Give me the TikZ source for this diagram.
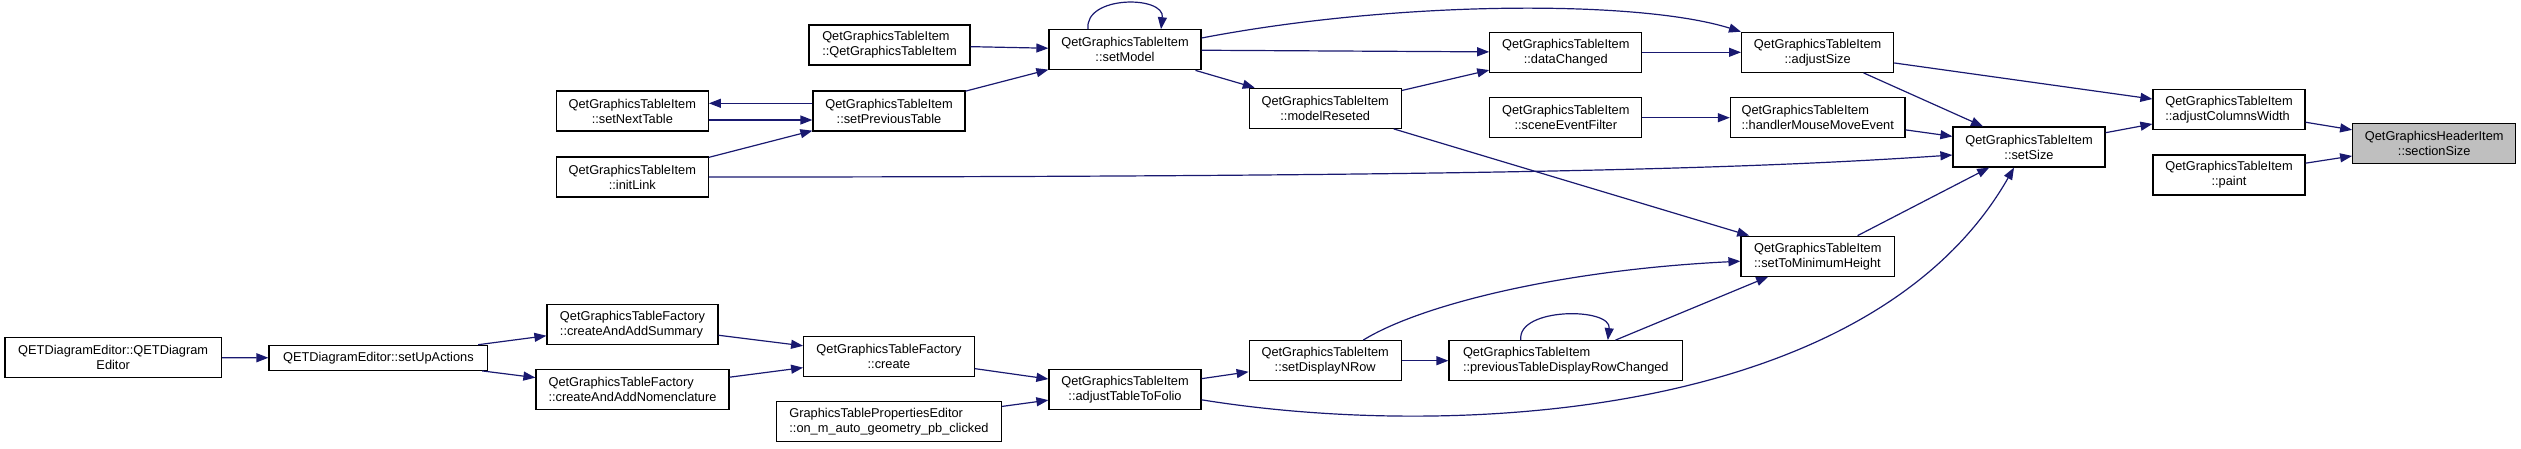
\documentclass[tikz,border=0pt]{standalone}
\usepackage{fontspec}
\setmainfont{Liberation Sans}
\usetikzlibrary{arrows.meta}
\definecolor{edgeBlue}{HTML}{191970}
\definecolor{headerGray}{HTML}{BFBFBF}

\begin{document}
\begin{tikzpicture}[x=1pt, y=-1pt, >={Triangle[length=12pt,width=9pt]}]

    \tikzset{fn/.style={draw, line width=1.2pt, fill=white, inner sep=0pt,
        minimum width=152pt, minimum height=40pt, align=center,
        font=\fontsize{12.8}{15}\selectfont},
      fnl/.style={fn, align=left},
      call/.style={->, draw=edgeBlue, line width=1.2pt}}

    \useasboundingbox (0,0) rectangle (2521,448);

    % callers, left to right
    \node[fn, minimum width=216.6pt] (qetde) at (113.2,357.7) {QETDiagramEditor::QETDiagram\\Editor};
    \node[fn, minimum width=218.8pt, minimum height=25pt] (setup) at (378.4,357.8) {QETDiagramEditor::setUpActions};
    \node[fnl, minimum width=171pt] (summary) at (632.5,324.5) {QetGraphicsTableFactory\\::createAndAddSummary};
    \node[fnl, minimum width=193pt] (nomencl) at (632.5,389.8) {QetGraphicsTableFactory\\::createAndAddNomenclature};
    \node[fn] (nexttable) at (632.3,111) {QetGraphicsTableItem\\::setNextTable};
    \node[fn] (initlink) at (632.3,177) {QetGraphicsTableItem\\::initLink};
    \node[fnl, minimum width=161pt] (ctor) at (889.5,45) {QetGraphicsTableItem\\::QetGraphicsTableItem};
    \node[fn] (prevtable) at (889,111) {QetGraphicsTableItem\\::setPreviousTable};
    \node[fn, minimum width=170.6pt] (create) at (889,356.5) {QetGraphicsTableFactory\\::create};
    \node[fnl, minimum width=224.5pt] (propeditor) at (889,421.7) {GraphicsTablePropertiesEditor\\::on\_m\_auto\_geometry\_pb\_clicked};
    \node[fn] (setmodel) at (1125,49.8) {QetGraphicsTableItem\\::setModel};
    \node[fn] (tofolio) at (1125,389.8) {QetGraphicsTableItem\\::adjustTableToFolio};
    \node[fn] (modelreset) at (1325.2,108.3) {QetGraphicsTableItem\\::modelReseted};
    \node[fn] (displaynrow) at (1325.2,360.7) {QetGraphicsTableItem\\::setDisplayNRow};
    \node[fn] (datachanged) at (1565.8,52.3) {QetGraphicsTableItem\\::dataChanged};
    \node[fn] (eventfilter) at (1565.8,117.7) {QetGraphicsTableItem\\::sceneEventFilter};
    \node[fnl, minimum width=233.6pt] (rowchanged) at (1565.8,360.7) {QetGraphicsTableItem\\::previousTableDisplayRowChanged};
    \node[fn] (adjustsize) at (1817.6,52.3) {QetGraphicsTableItem\\::adjustSize};
    \node[fnl, minimum width=174.6pt] (mousemove) at (1817.7,117.7) {QetGraphicsTableItem\\::handlerMouseMoveEvent};
    \node[fnl, minimum width=153.6pt] (minheight) at (1817.8,256.2) {QetGraphicsTableItem\\::setToMinimumHeight};
    \node[fn] (setsize) at (2029,147) {QetGraphicsTableItem\\::setSize};
    \node[fnl] (colwidth) at (2229,109.7) {QetGraphicsTableItem\\::adjustColumnsWidth};
    \node[fn] (paint) at (2229,175) {QetGraphicsTableItem\\::paint};
    \node[fn, fill=headerGray, minimum width=163pt] (sectionsize) at (2434.2,143.3) {QetGraphicsHeaderItem\\::sectionSize};

    % straight calls
    \draw[call] (qetde) -- (setup);
    \draw[call] (setup) -- (summary);
    \draw[call] (setup) -- (nomencl);
    \draw[call] (summary) -- (create);
    \draw[call] (nomencl) -- (create);
    \draw[call] (create) -- (tofolio);
    \draw[call] (propeditor) -- (tofolio);
    \draw[call] (tofolio) -- (displaynrow);
    \draw[call] (displaynrow) -- (rowchanged);
    \draw[call] (rowchanged) -- (minheight);
    \draw[call] (modelreset) -- (minheight);
    \draw[call] (minheight) -- (setsize);
    \draw[call] (ctor) -- (setmodel);
    \draw[call] (prevtable) -- (setmodel);
    \draw[call] (initlink) -- (prevtable);
    \draw[call] ([yshift=7.7pt]prevtable.west) -- ([yshift=7.7pt]nexttable.east);
    \draw[call] ([yshift=-9pt]nexttable.east) -- ([yshift=-9pt]prevtable.west);
    \draw[call] (setmodel) -- (modelreset);
    \draw[call] (setmodel) -- (datachanged);
    \draw[call] (modelreset) -- (datachanged);
    \draw[call] (datachanged) -- (adjustsize);
    \draw[call] (eventfilter) -- (mousemove);
    \draw[call] (adjustsize) -- (colwidth);
    \draw[call] (adjustsize) -- (setsize);
    \draw[call] (mousemove) -- (setsize);
    \draw[call] (setsize) -- (colwidth);
    \draw[call] (colwidth) -- (sectionsize);
    \draw[call] (paint) -- (sectionsize);

    % self calls
    \draw[call] ([xshift=-37pt]setmodel.north) .. controls +(-4,-34) and +(4,-34) .. ([xshift=36pt]setmodel.north);
    \draw[call] ([xshift=-45pt]rowchanged.north) .. controls +(-4,-33) and +(4,-33) .. ([xshift=42pt]rowchanged.north);

    % long bent calls
    \draw[call] ([yshift=11.8pt]setmodel.east) .. controls (1400,0) and (1640,0) .. (adjustsize.north west);
    \draw[call] (initlink.east) .. controls (1500,177) and (1760,168) .. ([yshift=-8pt]setsize.west);
    \draw[call] ([yshift=-10pt]tofolio.east) .. controls (1450,440) and (1870,420) .. ([xshift=-15pt]setsize.south);
    \draw[call] ([xshift=38pt]displaynrow.north) .. controls (1420,305) and (1560,270) .. ([yshift=-5pt]minheight.west);

\end{tikzpicture}
\end{document}
